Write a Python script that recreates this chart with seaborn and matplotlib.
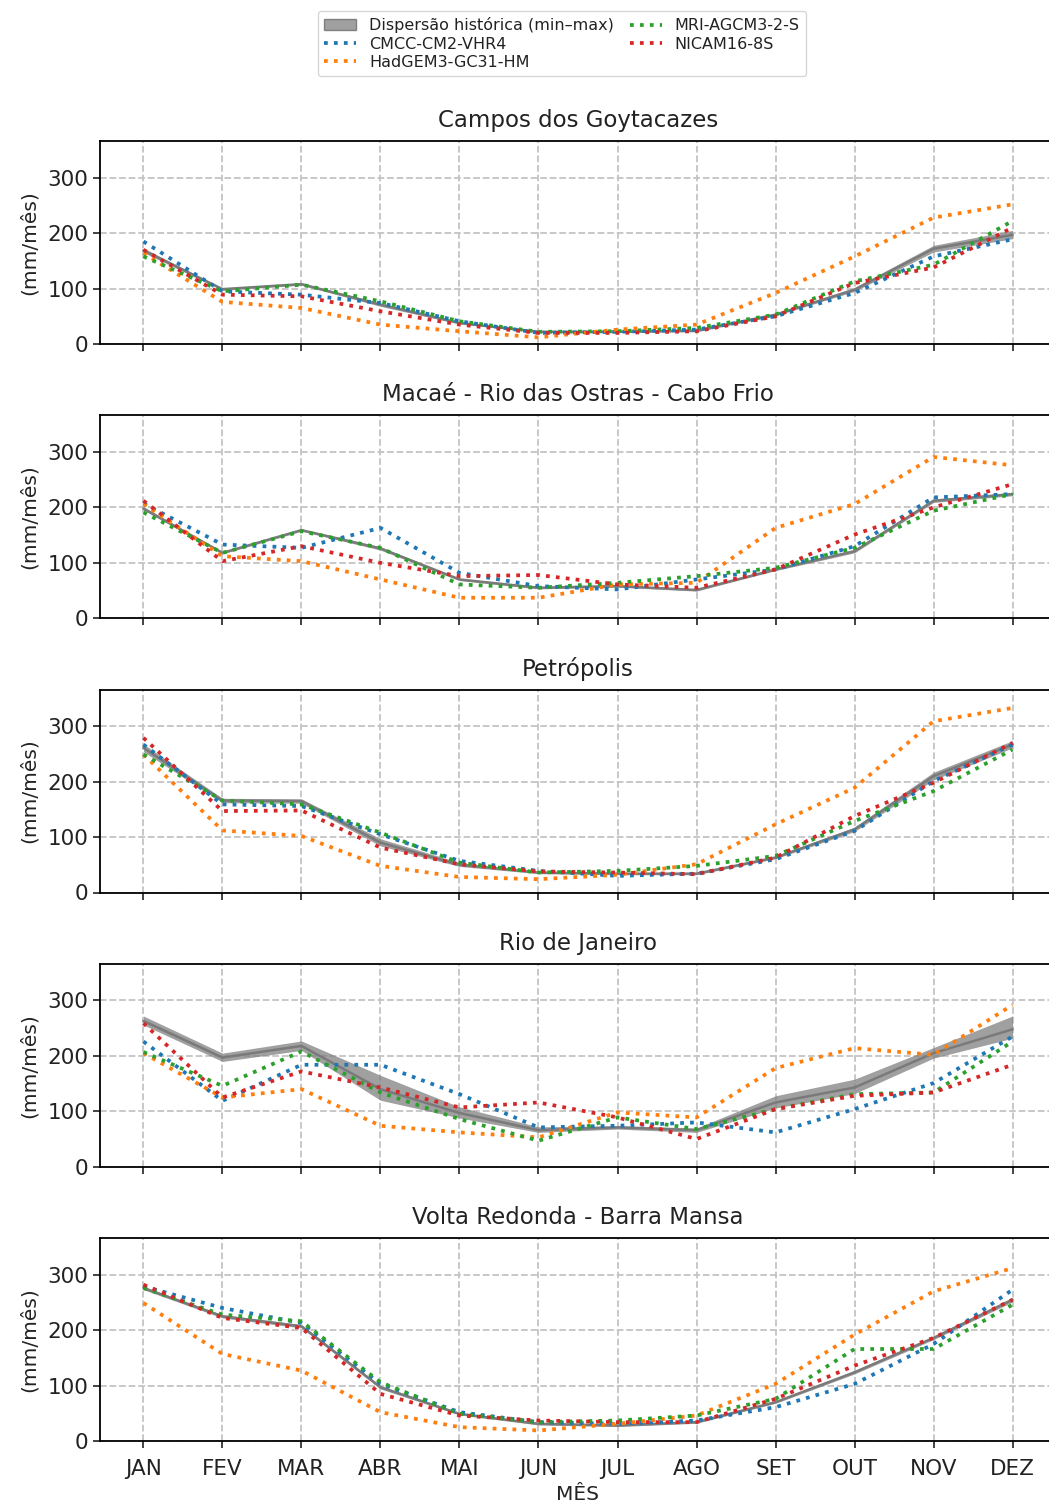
import numpy as np
import pandas as pd
import matplotlib
matplotlib.use("Agg")
import matplotlib.pyplot as plt
from matplotlib.patches import Patch
from matplotlib.lines import Line2D
import seaborn as sns

# Meses
meses = ["JAN", "FEV", "MAR", "ABR", "MAI", "JUN", "JUL", "AGO", "SET", "OUT", "NOV", "DEZ"]

regioes = ["Campos dos Goytacazes", "Macaé - Rio das Ostras - Cabo Frio",
           "Petrópolis", "Rio de Janeiro", "Volta Redonda - Barra Mansa"]

modelos = ["CMCC-CM2-VHR4", "HadGEM3-GC31-HM", "MRI-AGCM3-2-S", "NICAM16-8S"]
cores = ["tab:blue", "tab:orange", "tab:green", "tab:red"]

# Dispersão histórica (min, max) e linha central por região (mm/mês)
hist_min_campos = [165, 97, 106, 68, 36, 21, 21, 22, 51, 95, 166, 190]
hist_max_campos = [173, 101, 110, 74, 40, 24, 24, 26, 55, 102, 178, 205]
hist_med_campos = [169, 99, 108, 71, 38, 22, 22, 24, 53, 98, 172, 197]

hist_min_macae = [195, 116, 157, 123, 68, 53, 56, 49, 86, 118, 209, 221]
hist_max_macae = [201, 120, 161, 129, 72, 57, 60, 53, 90, 124, 215, 227]
hist_med_macae = [198, 118, 159, 126, 70, 55, 58, 51, 88, 121, 212, 224]

hist_min_petro = [254, 162, 161, 84, 47, 34, 32, 32, 61, 110, 203, 261]
hist_max_petro = [268, 170, 169, 97, 54, 38, 36, 36, 66, 118, 217, 274]
hist_med_petro = [261, 166, 165, 90, 50, 36, 34, 34, 63, 114, 210, 267]

hist_min_rio = [256, 190, 210, 120, 88, 62, 68, 62, 106, 132, 196, 232]
hist_max_rio = [272, 205, 227, 165, 108, 72, 74, 70, 128, 158, 215, 272]
hist_med_rio = [263, 197, 218, 140, 97, 66, 71, 66, 116, 143, 205, 248]

hist_min_vr = [273, 222, 204, 94, 47, 29, 26, 32, 68, 121, 183, 251]
hist_max_vr = [279, 228, 210, 100, 51, 33, 30, 36, 72, 127, 189, 259]
hist_med_vr = [276, 225, 207, 97, 49, 31, 28, 34, 70, 124, 186, 255]

# Simulações dos modelos (mm/mês)
cmcc_campos = [185, 95, 89, 74, 41, 20, 22, 26, 50, 92, 158, 189]
hadgem_campos = [164, 76, 65, 35, 23, 12, 26, 35, 92, 158, 228, 252]
mri_campos = [158, 95, 107, 77, 41, 22, 23, 29, 53, 113, 143, 222]
nicam_campos = [170, 89, 86, 59, 35, 20, 20, 23, 50, 110, 138, 210]

cmcc_macae = [207, 133, 127, 163, 82, 58, 52, 70, 88, 130, 218, 224]
hadgem_macae = [206, 112, 103, 70, 37, 37, 61, 64, 163, 206, 291, 276]
mri_macae = [191, 118, 157, 127, 61, 55, 64, 76, 91, 127, 194, 224]
nicam_macae = [212, 103, 130, 100, 76, 78, 61, 55, 88, 151, 200, 242]

cmcc_petro = [267, 159, 156, 105, 57, 39, 30, 34, 60, 111, 201, 267]
hadgem_petro = [249, 112, 102, 48, 28, 24, 32, 51, 123, 189, 309, 333]
mri_petro = [249, 166, 159, 108, 54, 36, 39, 48, 66, 129, 183, 258]
nicam_petro = [279, 147, 148, 81, 51, 38, 36, 33, 63, 138, 198, 270]

cmcc_rio = [226, 119, 184, 184, 131, 71, 74, 80, 62, 104, 151, 235]
hadgem_rio = [205, 125, 140, 74, 62, 53, 98, 89, 178, 214, 202, 292]
mri_rio = [207, 146, 208, 134, 86, 47, 89, 68, 104, 131, 134, 226]
nicam_rio = [259, 125, 172, 143, 107, 116, 89, 50, 104, 128, 134, 184]

cmcc_vr = [279, 240, 213, 103, 52, 34, 31, 37, 61, 103, 175, 273]
hadgem_vr = [249, 157, 127, 52, 25, 19, 31, 46, 103, 192, 270, 312]
mri_vr = [276, 228, 216, 106, 49, 34, 37, 46, 76, 166, 166, 246]
nicam_vr = [282, 222, 204, 85, 46, 37, 34, 34, 76, 136, 186, 255]

hist_min = [hist_min_campos, hist_min_macae, hist_min_petro, hist_min_rio, hist_min_vr]
hist_max = [hist_max_campos, hist_max_macae, hist_max_petro, hist_max_rio, hist_max_vr]
hist_med = [hist_med_campos, hist_med_macae, hist_med_petro, hist_med_rio, hist_med_vr]
sims = [
    [cmcc_campos, hadgem_campos, mri_campos, nicam_campos],
    [cmcc_macae, hadgem_macae, mri_macae, nicam_macae],
    [cmcc_petro, hadgem_petro, mri_petro, nicam_petro],
    [cmcc_rio, hadgem_rio, mri_rio, nicam_rio],
    [cmcc_vr, hadgem_vr, mri_vr, nicam_vr],
]

sns.set_style("ticks")
plt.rcParams["font.family"] = ["DejaVu Sans"]
plt.rcParams["text.color"] = "#222222"
plt.rcParams["axes.labelcolor"] = "#222222"
plt.rcParams["xtick.color"] = "#222222"
plt.rcParams["ytick.color"] = "#222222"

W, H = 1049, 1508
fig = plt.figure(figsize=(W / 100, H / 100), dpi=100)

x = np.arange(len(meses))
y_top = max(max(max(s) for s in grupo) for grupo in sims) * 1.1

ax_left = 100 / W
ax_width = 956 / W
ax_height = 203 / H
first_bottom_px = 344
step_px = 274.25

ultimo = len(regioes) - 1
for i, regiao in enumerate(regioes):
    bottom = 1 - (first_bottom_px + i * step_px) / H
    ax = fig.add_axes([ax_left, bottom, ax_width, ax_height])

    ax.fill_between(x, hist_min[i], hist_max[i], color="gray", alpha=0.75,
                    linewidth=0, zorder=2)
    sns.lineplot(x=x, y=hist_med[i], ax=ax, color="#7a7a7a", linewidth=1.8, zorder=3)

    for serie, cor in zip(sims[i], cores):
        sns.lineplot(x=x, y=serie, ax=ax, color=cor, linestyle=":", linewidth=2.7,
                     zorder=4)

    ax.set_xlim(-0.55, 11.55)
    ax.set_ylim(0, y_top)
    ax.set_yticks([0, 100, 200, 300])
    ax.set_xticks(x)
    if i == ultimo:
        ax.set_xticklabels(meses)
        ax.set_xlabel("MÊS", fontsize=14.5, labelpad=4)
    else:
        ax.set_xticklabels([])
        ax.set_xlabel("")
    ax.grid(True, linestyle="--", color="#c4c4c4", linewidth=1.3)
    ax.set_axisbelow(True)
    ax.set_title(regiao, fontsize=16.5, pad=10)
    ax.set_ylabel("(mm/mês)", fontsize=14.5, labelpad=6)
    ax.tick_params(axis="both", labelsize=15.5, length=5, width=1.2, direction="out")
    ax.tick_params(axis="x", pad=8)
    for sp in ax.spines.values():
        sp.set_linewidth(1.3)
        sp.set_color("black")

handles = [Patch(facecolor="gray", alpha=0.75, edgecolor="#666666",
                 label="Dispersão histórica (min–max)")]
for cor, nome in zip(cores, modelos):
    handles.append(Line2D([0], [0], color=cor, linestyle=":", linewidth=2.7, label=nome))

fig.legend(handles=handles, loc="upper center", ncol=2,
           bbox_to_anchor=(562 / W, 1 - 3 / H), fontsize=11.5,
           frameon=True, columnspacing=1.0, handlelength=2.0,
           labelspacing=0.2, borderpad=0.4)

fig.savefig("out.png", dpi=100)
